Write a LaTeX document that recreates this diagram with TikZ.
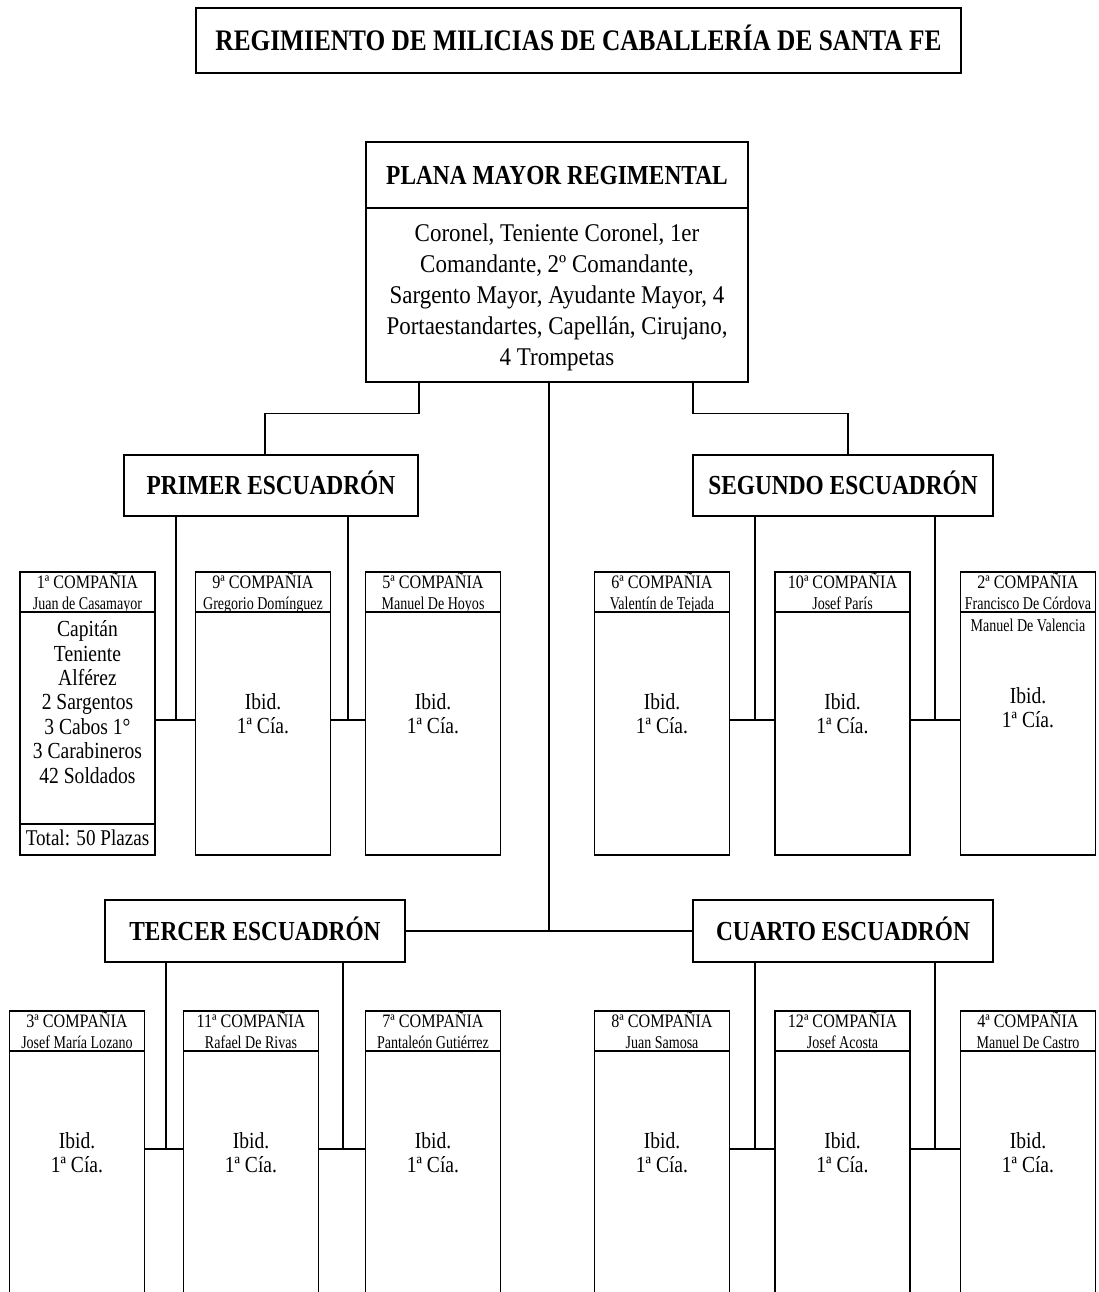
\documentclass[tikz,border=0pt]{standalone}
\usepackage{fontspec}
\setmainfont{Liberation Serif}
\newfontfamily\fcond[FakeStretch=0.85]{Liberation Serif}
\newfontfamily\fname[FakeStretch=0.78]{Liberation Serif}
\newfontfamily\fplana[FakeStretch=0.9]{Liberation Serif}
% header of a company: name, x, top y, number text, person
\newcommand\comphdr[5]{%
  \node[chead] (#1h) at (#2,{#3+20}) {};
  \node[hnum] (#1n) at (#2,{#3+16.3}) {#4};
  \node[hname] (#1p) at (#2,{#3+37}) {#5};
}
\begin{document}
\begin{tikzpicture}[x=1pt,y=-1pt,
  box/.style={draw, line width=1.2pt, inner sep=0pt, align=center, rectangle},
  ln/.style={line width=1.2pt},
  bighead/.style={box, text height=18.2pt, text depth=0pt, font={\fcond\bfseries\fontsize{27.5}{30}\selectfont}},
  chead/.style={box, minimum width=135pt, minimum height=40pt},
  hnum/.style={anchor=base, inner sep=0pt, font={\fcond\fontsize{19}{21}\selectfont}},
  hname/.style={anchor=base, inner sep=0pt, font={\fname\fontsize{18}{21}\selectfont}},
  cbody/.style={box, minimum width=135pt},
  ctext/.style={align=center, inner sep=0pt, font={\fcond\fontsize{23}{24.4}\selectfont}},
  nm/.style={font={\fname\fontsize{18}{21}\selectfont}}
]
\useasboundingbox (0,0) rectangle (1098,1292);
\clip (0,0) rectangle (1098,1292);

% title
\node[box, minimum width=765pt, minimum height=65pt, text height=19.7pt, text depth=0pt, font={\fcond\bfseries\fontsize{29.8}{32}\selectfont}] (title) at (578.5,40.5) {REGIMIENTO DE MILICIAS DE CABALLERÍA DE SANTA FE};

% plana mayor
\node[bighead, minimum width=382pt, minimum height=66pt] (ph) at (557,175) {PLANA MAYOR REGIMENTAL};
\node[box, minimum width=382pt, minimum height=174pt] (pb) at (557,295) {};
\node[align=center, inner sep=0pt, font={\fplana\fontsize{25.5}{31}\selectfont}] (pbt) at (557,297.5)
 {Coronel, Teniente Coronel, 1er\\Comandante, 2º Comandante,\\Sargento Mayor, Ayudante Mayor, 4\\Portaestandartes, Capellán, Cirujano,\\4 Trompetas};

% squadrons
\node[bighead, minimum width=294pt, minimum height=61pt] (primer) at (271,485.5) {PRIMER ESCUADRÓN};
\node[bighead, minimum width=300pt, minimum height=61pt] (segundo) at (843,485.5) {SEGUNDO ESCUADRÓN};
\node[bighead, minimum width=300pt, minimum height=62pt] (tercer) at (255,931) {TERCER ESCUADRÓN};
\node[bighead, minimum width=300pt, minimum height=62pt] (cuarto) at (843,931) {CUARTO ESCUADRÓN};

% row 1 companies
\comphdr{c1}{87.5}{572}{1ª COMPAÑIA}{Juan de Casamayor}
\node[cbody, minimum height=212pt] (c1b) at (87.5,718) {};
\node[box, minimum width=135pt, minimum height=31pt, text height=15pt, text depth=4pt, font={\fcond\fontsize{22.5}{24}\selectfont}] (c1tot) at (87.5,839.5) {Total: 50 Plazas};
\node[ctext] (c1t) at (87.5,702) {Capitán\\Teniente\\Alférez\\2 Sargentos\\3 Cabos 1°\\3 Carabineros\\42 Soldados};

\comphdr{c9}{263}{572}{9ª COMPAÑIA}{Gregorio Domínguez}
\node[cbody, minimum height=243pt] (c9b) at (263,733.5) {};
\node[ctext] (c9t) at (263,713.5) {Ibid.\\1ª Cía.};

\comphdr{c5}{433}{572}{5ª COMPAÑIA}{Manuel De Hoyos}
\node[cbody, minimum height=243pt] (c5b) at (433,733.5) {};
\node[ctext] (c5t) at (433,713.5) {Ibid.\\1ª Cía.};

\comphdr{c6}{662}{572}{6ª COMPAÑIA}{Valentín de Tejada}
\node[cbody, minimum height=243pt] (c6b) at (662,733.5) {};
\node[ctext] (c6t) at (662,713.5) {Ibid.\\1ª Cía.};

\comphdr{c10}{842.5}{572}{10ª COMPAÑIA}{Josef París}
\node[cbody, minimum height=243pt] (c10b) at (842.5,733.5) {};
\node[ctext] (c10t) at (842.5,713.5) {Ibid.\\1ª Cía.};

\comphdr{c2}{1028}{572}{2ª COMPAÑIA}{Francisco De Córdova}
\node[cbody, minimum height=243pt] (c2b) at (1028,733.5) {};
\node[inner sep=0pt, nm] (c2n) at (1028,625) {Manuel De Valencia};
\node[ctext] (c2t) at (1028,707.5) {Ibid.\\1ª Cía.};

% row 2 companies
\comphdr{c3}{77}{1011}{3ª COMPAÑIA}{Josef María Lozano}
\node[cbody, minimum height=259pt] (c3b) at (77,1180.5) {};
\node[ctext] (c3t) at (77,1152.5) {Ibid.\\1ª Cía.};

\comphdr{c11}{251}{1011}{11ª COMPAÑIA}{Rafael De Rivas}
\node[cbody, minimum height=259pt] (c11b) at (251,1180.5) {};
\node[ctext] (c11t) at (251,1152.5) {Ibid.\\1ª Cía.};

\comphdr{c7}{433}{1011}{7ª COMPAÑIA}{Pantaleón Gutiérrez}
\node[cbody, minimum height=259pt] (c7b) at (433,1180.5) {};
\node[ctext] (c7t) at (433,1152.5) {Ibid.\\1ª Cía.};

\comphdr{c8}{662}{1011}{8ª COMPAÑIA}{Juan Samosa}
\node[cbody, minimum height=259pt] (c8b) at (662,1180.5) {};
\node[ctext] (c8t) at (662,1152.5) {Ibid.\\1ª Cía.};

\comphdr{c12}{842.5}{1011}{12ª COMPAÑIA}{Josef Acosta}
\node[cbody, minimum height=259pt] (c12b) at (842.5,1180.5) {};
\node[ctext] (c12t) at (842.5,1152.5) {Ibid.\\1ª Cía.};

\comphdr{c4}{1028}{1011}{4ª COMPAÑIA}{Manuel De Castro}
\node[cbody, minimum height=259pt] (c4b) at (1028,1180.5) {};
\node[ctext] (c4t) at (1028,1152.5) {Ibid.\\1ª Cía.};

% connectors from plana mayor
\draw[ln] ([xshift=-138pt]pb.south) -- ++(0,31) -| ([xshift=-6pt]primer.north);
\draw[ln] ([xshift=136pt]pb.south) -- ++(0,31) -| ([xshift=5pt]segundo.north);
\draw[ln] ([xshift=-8pt]pb.south) -- ([xshift=-8pt]pb.south |- tercer.east);
\draw[ln] (tercer.east) -- (cuarto.west);

\coordinate (r1) at (0,720);
\coordinate (r2) at (0,1149);

% primer
\draw[ln] ([xshift=-95pt]primer.south) -- ([xshift=-95pt]primer.south |- r1);
\draw[ln] (c1b.east |- r1) -- (c9b.west |- r1);
\draw[ln] ([xshift=77pt]primer.south) -- ([xshift=77pt]primer.south |- r1);
\draw[ln] (c9b.east |- r1) -- (c5b.west |- r1);
% segundo
\draw[ln] ([xshift=-88pt]segundo.south) -- ([xshift=-88pt]segundo.south |- r1);
\draw[ln] (c6b.east |- r1) -- (c10b.west |- r1);
\draw[ln] ([xshift=92pt]segundo.south) -- ([xshift=92pt]segundo.south |- r1);
\draw[ln] (c10b.east |- r1) -- (c2b.west |- r1);
% tercer
\draw[ln] ([xshift=-89pt]tercer.south) -- ([xshift=-89pt]tercer.south |- r2);
\draw[ln] (c3b.east |- r2) -- (c11b.west |- r2);
\draw[ln] ([xshift=88pt]tercer.south) -- ([xshift=88pt]tercer.south |- r2);
\draw[ln] (c11b.east |- r2) -- (c7b.west |- r2);
% cuarto
\draw[ln] ([xshift=-88pt]cuarto.south) -- ([xshift=-88pt]cuarto.south |- r2);
\draw[ln] (c8b.east |- r2) -- (c12b.west |- r2);
\draw[ln] ([xshift=92pt]cuarto.south) -- ([xshift=92pt]cuarto.south |- r2);
\draw[ln] (c12b.east |- r2) -- (c4b.west |- r2);
\end{tikzpicture}
\end{document}
